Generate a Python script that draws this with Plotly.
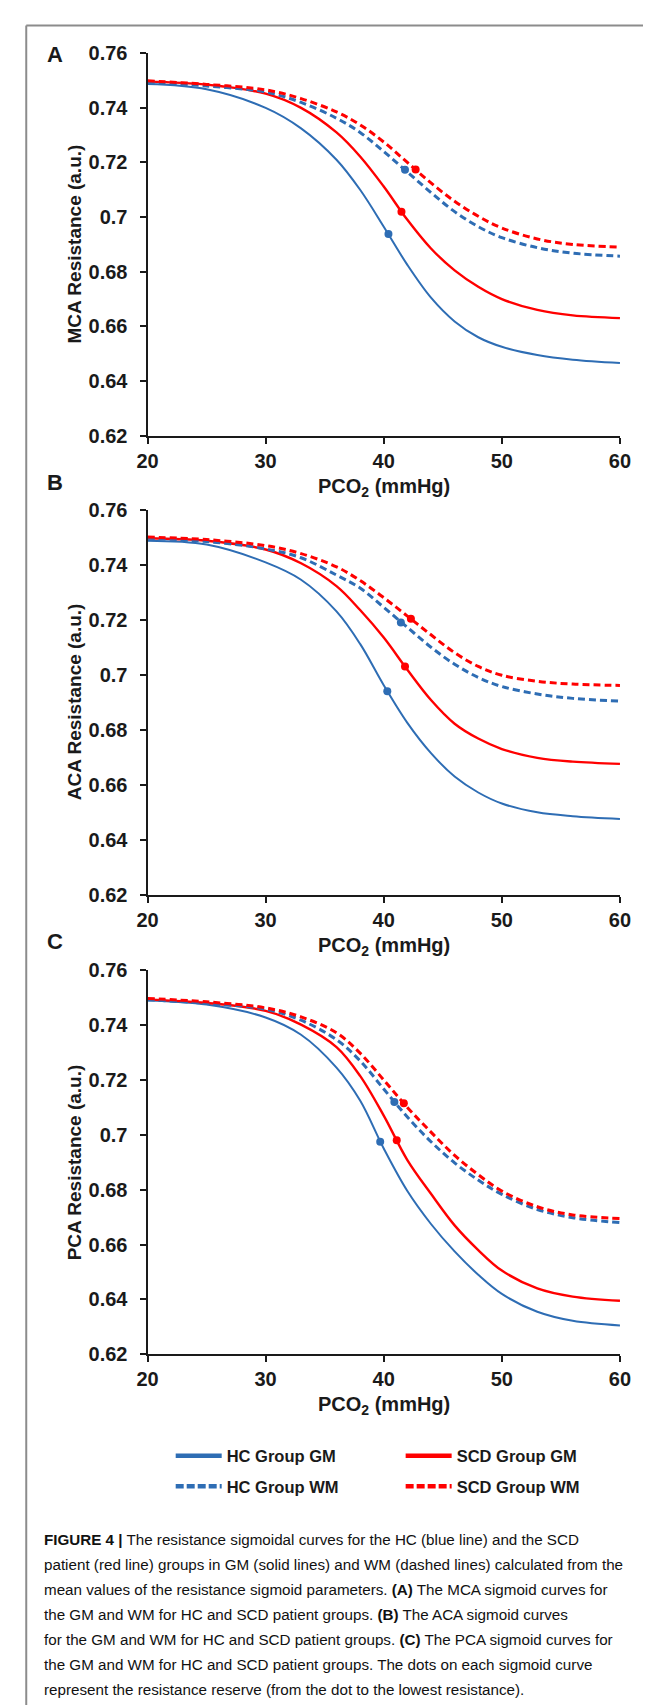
import plotly.graph_objects as go

# ---------------- data ----------------
pco2 = [20, 25, 30, 33, 36, 38, 40, 42, 44, 46, 48, 50, 53, 56, 60]

mca_hc_gm = [0.7487, 0.7468, 0.7400, 0.7325, 0.7210, 0.7100, 0.6965, 0.6825, 0.6705, 0.6618, 0.6560, 0.6525, 0.6495, 0.6478, 0.6466]
mca_scd_gm = [0.7496, 0.7485, 0.7452, 0.7400, 0.7310, 0.7222, 0.7112, 0.6990, 0.6885, 0.6805, 0.6745, 0.6700, 0.6660, 0.6640, 0.6630]
mca_hc_wm = [0.7496, 0.7480, 0.7458, 0.7420, 0.7362, 0.7310, 0.7240, 0.7165, 0.7090, 0.7020, 0.6965, 0.6925, 0.6888, 0.6868, 0.6857]
mca_scd_wm = [0.7499, 0.7486, 0.7466, 0.7434, 0.7385, 0.7338, 0.7275, 0.7200, 0.7125, 0.7058, 0.7003, 0.6960, 0.6920, 0.6900, 0.6890]

aca_hc_gm = [0.7487, 0.7473, 0.7408, 0.7345, 0.7230, 0.7112, 0.6962, 0.6825, 0.6715, 0.6630, 0.6572, 0.6532, 0.6500, 0.6486, 0.6476]
aca_scd_gm = [0.7496, 0.7487, 0.7455, 0.7405, 0.7322, 0.7235, 0.7135, 0.7018, 0.6908, 0.6822, 0.6768, 0.6730, 0.6698, 0.6684, 0.6676]
aca_hc_wm = [0.7496, 0.7484, 0.7457, 0.7425, 0.7362, 0.7315, 0.7245, 0.7172, 0.7100, 0.7038, 0.6990, 0.6957, 0.6930, 0.6914, 0.6904]
aca_scd_wm = [0.7500, 0.7491, 0.7469, 0.7440, 0.7392, 0.7342, 0.7280, 0.7213, 0.7145, 0.7080, 0.7030, 0.6998, 0.6976, 0.6966, 0.6961]

pca_hc_gm = [0.7490, 0.7475, 0.7428, 0.7365, 0.7245, 0.7125, 0.6950, 0.6795, 0.6675, 0.6575, 0.6490, 0.6420, 0.6355, 0.6322, 0.6305]
pca_scd_gm = [0.7493, 0.7481, 0.7452, 0.7402, 0.7320, 0.7215, 0.7070, 0.6908, 0.6785, 0.6670, 0.6580, 0.6505, 0.6440, 0.6410, 0.6395]
pca_hc_wm = [0.7493, 0.7479, 0.7458, 0.7418, 0.7347, 0.7270, 0.7167, 0.7065, 0.6975, 0.6898, 0.6835, 0.6783, 0.6728, 0.6698, 0.6680]
pca_scd_wm = [0.7497, 0.7485, 0.7463, 0.7430, 0.7372, 0.7298, 0.7200, 0.7100, 0.7010, 0.6925, 0.6855, 0.6795, 0.6738, 0.6708, 0.6695]

# resistance-reserve dots: [HC GM, SCD GM, HC WM, SCD WM]
mca_dot_x = [40.4, 41.5, 41.8, 42.7]
mca_dot_y = [0.6938, 0.7020, 0.7173, 0.7174]
aca_dot_x = [40.3, 41.8, 41.45, 42.3]
aca_dot_y = [0.6940, 0.7030, 0.7190, 0.7203]
pca_dot_x = [39.7, 41.1, 40.9, 41.7]
pca_dot_y = [0.6975, 0.6980, 0.7120, 0.7115]

series_names = ["HC Group GM", "SCD Group GM", "HC Group WM", "SCD Group WM"]
panel_letters = ["A", "B", "C"]
y_titles = ["MCA Resistance (a.u.)", "ACA Resistance (a.u.)", "PCA Resistance (a.u.)"]
x_title = "PCO<sub>2</sub> (mmHg)"
x_ticks = [20, 30, 40, 50, 60]
y_ticks = [0.62, 0.64, 0.66, 0.68, 0.70, 0.72, 0.74, 0.76]
y_ticktext = ["0.62", "0.64", "0.66", "0.68", "0.7", "0.72", "0.74", "0.76"]

caption_lines = [
    "<b>FIGURE 4 |</b> The resistance sigmoidal curves for the HC (blue line) and the SCD",
    "patient (red line) groups in GM (solid lines) and WM (dashed lines) calculated from the",
    "mean values of the resistance sigmoid parameters. <b>(A)</b> The MCA sigmoid curves for",
    "the GM and WM for HC and SCD patient groups. <b>(B)</b> The ACA sigmoid curves",
    "for the GM and WM for HC and SCD patient groups. <b>(C)</b> The PCA sigmoid curves for",
    "the GM and WM for HC and SCD patient groups. The dots on each sigmoid curve",
    "represent the resistance reserve (from the dot to the lowest resistance).",
]

# ---------------- styling ----------------
W, H = 651, 1708
BLUE = "#2E6DB4"
RED = "#FF0000"
DARK = "#1a1a1a"
FONT = "Liberation Sans, Arial, Helvetica, sans-serif"
colors = [BLUE, RED, BLUE, RED]
dashes = ["solid", "solid", "7px,4px", "7px,4px"]
widths = [2, 2.4, 3, 3]


def px(x):
    return x / W


def py(y):
    return 1 - y / H


x_dom = [px(133), px(622)]
y_doms = [
    [py(422.0), py(34.7)],
    [py(887.3), py(497.0)],
    [py(1352.7), py(963.7)],
]

panels = [
    ([mca_hc_gm, mca_scd_gm, mca_hc_wm, mca_scd_wm], mca_dot_x, mca_dot_y),
    ([aca_hc_gm, aca_scd_gm, aca_hc_wm, aca_scd_wm], aca_dot_x, aca_dot_y),
    ([pca_hc_gm, pca_scd_gm, pca_hc_wm, pca_scd_wm], pca_dot_x, pca_dot_y),
]

fig = go.Figure()

for p, (curves, dx, dy) in enumerate(panels):
    xa = "x" if p == 0 else f"x{p+1}"
    ya = "y" if p == 0 else f"y{p+1}"
    for i, c in enumerate(curves):
        fig.add_trace(go.Scatter(
            x=pco2, y=c, mode="lines", xaxis=xa, yaxis=ya,
            line=dict(color=colors[i], width=widths[i], dash=dashes[i], shape="spline", smoothing=1.0),
            showlegend=False, hoverinfo="skip"))
    for i in range(4):
        fig.add_trace(go.Scatter(
            x=[dx[i]], y=[dy[i]], mode="markers", xaxis=xa, yaxis=ya,
            marker=dict(color=colors[i], size=8), showlegend=False, hoverinfo="skip"))

# legend entries (two columns -> two legends)
leg_dash = ["solid", "solid", "8px,3px", "8px,3px"]
for i, name in enumerate(series_names):
    fig.add_trace(go.Scatter(
        x=[None], y=[None], mode="lines", name=name,
        line=dict(color=colors[i], width=4.5, dash=leg_dash[i]),
        legend="legend" if i in (0, 2) else "legend2",
        legendgroup=f"g{i}", showlegend=True))

axis_common = dict(
    showline=True, linecolor=DARK, linewidth=2, ticks="outside", ticklen=6,
    tickwidth=2, tickcolor=DARK, showgrid=False, zeroline=False,
    tickfont=dict(family=FONT, size=20, color=DARK, weight="bold"),
)

layout = dict(
    width=W, height=H, autosize=False,
    margin=dict(l=0, r=0, t=0, b=0),
    paper_bgcolor="white", plot_bgcolor="white",
    showlegend=True,
)

for p in range(3):
    xk = "xaxis" if p == 0 else f"xaxis{p+1}"
    yk = "yaxis" if p == 0 else f"yaxis{p+1}"
    ya = "y" if p == 0 else f"y{p+1}"
    xa = "x" if p == 0 else f"x{p+1}"
    layout[xk] = dict(axis_common, domain=x_dom, range=[20, 60], anchor=ya,
                      tickvals=x_ticks, ticktext=[str(v) for v in x_ticks],
                      ticklabelstandoff=0)
    layout[yk] = dict(axis_common, domain=y_doms[p], range=[0.62, 0.76], anchor=xa,
                      tickvals=y_ticks, ticktext=y_ticktext, ticklabelstandoff=8)

leg_common = dict(
    orientation="v", xanchor="left", yanchor="top",
    font=dict(family=FONT, size=16.5, color=DARK, weight="bold"),
    bgcolor="rgba(0,0,0,0)", itemwidth=46, tracegroupgap=6,
)
layout["legend"] = dict(leg_common, x=px(157), y=py(1438))
layout["legend2"] = dict(leg_common, x=px(395), y=py(1438))

annotations = []
letter_y = [36, 470, 935]
x_title_y = [475, 940, 1405]
for p in range(3):
    annotations.append(dict(
        text=f"<b>{panel_letters[p]}</b>", x=px(37), y=py(letter_y[p]), xref="paper", yref="paper",
        xanchor="center", yanchor="middle", showarrow=False,
        font=dict(family=FONT, size=22, color=DARK)))
    annotations.append(dict(
        text=f"<b>{x_title}</b>", x=px(377.5), y=py(x_title_y[p]), xref="paper", yref="paper",
        xanchor="center", yanchor="middle", showarrow=False,
        font=dict(family=FONT, size=20, color=DARK)))
    yc = (y_doms[p][0] + y_doms[p][1]) / 2
    annotations.append(dict(
        text=f"<b>{y_titles[p]}</b>", x=px(57), y=yc, xref="paper", yref="paper",
        xanchor="center", yanchor="middle", textangle=-90, showarrow=False,
        font=dict(family=FONT, size=19, color=DARK)))

cap_y0 = 1540
cap_dy = 25.3
for k, line in enumerate(caption_lines):
    annotations.append(dict(
        text=line, x=px(24), y=py(cap_y0 + k * cap_dy), xref="paper", yref="paper",
        xanchor="left", yanchor="middle", showarrow=False, align="left",
        font=dict(family=FONT, size=15.2, color="#111111")))

layout["annotations"] = annotations

# figure frame (grey border at top and left)
layout["shapes"] = [
    dict(type="line", xref="paper", yref="paper", x0=px(7.5), x1=1.0, y0=py(6.5), y1=py(6.5),
         line=dict(color="#8c8c8c", width=2)),
    dict(type="line", xref="paper", yref="paper", x0=px(7.5), x1=px(7.5), y0=py(6.5), y1=0.0,
         line=dict(color="#8c8c8c", width=2)),
]

fig.update_layout(**layout)
fig.write_html("out.html")
